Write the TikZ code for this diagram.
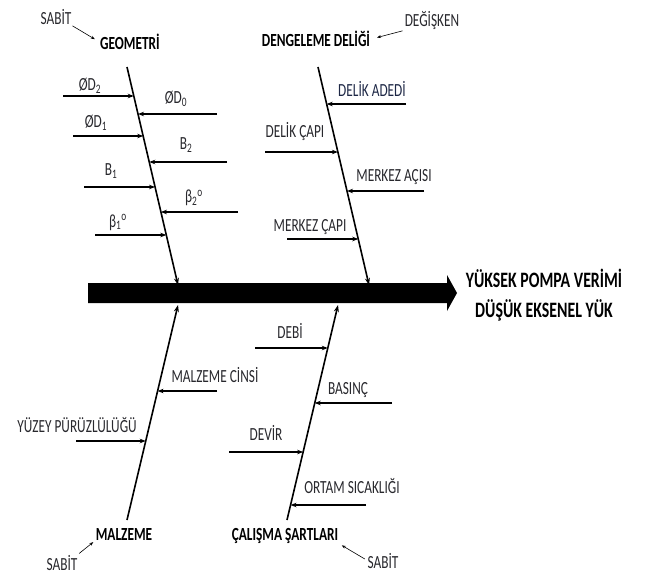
\documentclass[tikz,border=0pt]{standalone}
\usepackage{fontspec}
\setmainfont{Carlito}[FakeStretch=0.72]
\usetikzlibrary{arrows.meta,calc}
\definecolor{labc}{RGB}{40,40,45}
\definecolor{labb}{RGB}{30,40,70}
\begin{document}
\begin{tikzpicture}[x=1pt,y=-1pt,
  bone/.style={line width=1.6pt,-{Stealth[length=7pt,width=5pt]}},
  sub/.style={line width=1.5pt,-{Stealth[length=6pt,width=4.5pt]}},
  note/.style={line width=0.6pt,-{Stealth[length=4pt,width=3pt]}},
  lab/.style={font=\fontsize{18.5}{18.5}\selectfont,text=labc,inner sep=0pt,anchor=base},
  ttl/.style={font=\bfseries\fontsize{18.5}{18.5}\selectfont,inner sep=0pt,anchor=base},
  eff/.style={font=\bfseries\fontsize{22}{22}\selectfont,inner sep=0pt,anchor=base},
]
\useasboundingbox (0,0) rectangle (651,575);

% main spine
\fill (88,283) -- (447,283) -- (447,275) -- (457,293) -- (447,311) -- (447,303) -- (88,303) -- cycle;
\node[eff] (effa) at (544,287) {YÜKSEK POMPA VERİMİ};
\node[eff] (effb) at (544,317) {DÜŞÜK EKSENEL YÜK};

% ---------- GEOMETRI ----------
\coordinate (gt) at (127,67); \coordinate (gb) at (178,285);
\draw[bone] (gt) -- (gb);
\node[ttl] (geo) at (130,50) {GEOMETRİ};
\node[lab] (s1) at (56,25) {SABİT};
\draw[note,shorten <=1pt,shorten >=6pt] (s1.south east) -- (geo.west);

\coordinate (g1s) at (63,96);  \coordinate (g1) at ($(gt)!0.133!(gb)$);
\coordinate (g2s) at (217,114); \coordinate (g2) at ($(gt)!0.216!(gb)$);
\coordinate (g3s) at (73,136);  \coordinate (g3) at ($(gt)!0.317!(gb)$);
\coordinate (g4s) at (227,162); \coordinate (g4) at ($(gt)!0.436!(gb)$);
\coordinate (g5s) at (84,187);  \coordinate (g5) at ($(gt)!0.550!(gb)$);
\coordinate (g6s) at (238,212); \coordinate (g6) at ($(gt)!0.665!(gb)$);
\coordinate (g7s) at (95,235);  \coordinate (g7) at ($(gt)!0.771!(gb)$);
\foreach \i in {1,...,7} {\draw[sub] (g\i s) -- (g\i s -| g\i);}
\node[lab] (l1) at (90,91)  {ØD\textsubscript{2}};
\node[lab] (l2) at (176,104) {ØD\textsubscript{0}};
\node[lab] (l3) at (96,128) {ØD\textsubscript{1}};
\node[lab] (l4) at (186,150) {B\textsubscript{2}};
\node[lab] (l5) at (111,176) {B\textsubscript{1}};
\node[lab] (l6) at (194,203) {β\textsubscript{2}\textsuperscript{o}};
\node[lab] (l7) at (118,227) {β\textsubscript{1}\textsuperscript{o}};

% ---------- DENGELEME DELIGI ----------
\coordinate (dt) at (318,67); \coordinate (db) at (369,285);
\draw[bone] (dt) -- (db);
\node[ttl] (den) at (316,47) {DENGELEME DELİĞİ};
\node[lab] (s2) at (432,27) {DEĞİŞKEN};
\draw[note,shorten <=2pt,shorten >=7pt] (s2.south west) -- (den.east);

\coordinate (d1s) at (406,104); \coordinate (d1) at ($(dt)!0.170!(db)$);
\coordinate (d2s) at (265,152); \coordinate (d2) at ($(dt)!0.390!(db)$);
\coordinate (d3s) at (424,191); \coordinate (d3) at ($(dt)!0.569!(db)$);
\coordinate (d4s) at (287,239); \coordinate (d4) at ($(dt)!0.789!(db)$);
\foreach \i in {1,...,4} {\draw[sub] (d\i s) -- (d\i s -| d\i);}
\node[lab,text=labb] (m1) at (372,97) {DELİK ADEDİ};
\node[lab] (m2) at (295,138) {DELİK ÇAPI};
\node[lab] (m3) at (394,182) {MERKEZ AÇISI};
\node[lab] (m4) at (310,232) {MERKEZ ÇAPI};

% ---------- MALZEME ----------
\coordinate (mt) at (178,305); \coordinate (mb) at (127,520);
\draw[bone] (mb) -- (mt);
\node[ttl] (malz) at (124,540) {MALZEME};
\node[lab] (s3) at (62,570) {SABİT};
\draw[note,shorten <=2pt,shorten >=3pt] (s3.north east) -- (malz.south west);

\coordinate (k1s) at (217,391); \coordinate (k1) at ($(mt)!0.400!(mb)$);
\coordinate (k2s) at (76,441);  \coordinate (k2) at ($(mt)!0.633!(mb)$);
\foreach \i in {1,2} {\draw[sub] (k\i s) -- (k\i s -| k\i);}
\node[lab] (n1) at (215,382) {MALZEME CİNSİ};
\node[lab] (n2) at (77,432) {YÜZEY PÜRÜZLÜLÜĞÜ};

% ---------- CALISMA SARTLARI ----------
\coordinate (ct) at (338,305); \coordinate (cb) at (287,520);
\draw[bone] (cb) -- (ct);
\node[ttl] (cal) at (285,540) {ÇALIŞMA ŞARTLARI};
\node[lab] (s4) at (383,568) {SABİT};
\draw[note,shorten <=3pt,shorten >=4pt] (s4.west) -- (cal.south east);

\coordinate (c1s) at (255,348); \coordinate (c1) at ($(ct)!0.200!(cb)$);
\coordinate (c2s) at (392,403); \coordinate (c2) at ($(ct)!0.456!(cb)$);
\coordinate (c3s) at (229,452); \coordinate (c3) at ($(ct)!0.684!(cb)$);
\coordinate (c4s) at (366,505); \coordinate (c4) at ($(ct)!0.930!(cb)$);
\foreach \i in {1,...,4} {\draw[sub] (c\i s) -- (c\i s -| c\i);}
\node[lab] (p1) at (290,338) {DEBİ};
\node[lab] (p2) at (348,394) {BASINÇ};
\node[lab] (p3) at (266,440) {DEVİR};
\node[lab] (p4) at (352,493) {ORTAM SICAKLIĞI};
\end{tikzpicture}
\end{document}
